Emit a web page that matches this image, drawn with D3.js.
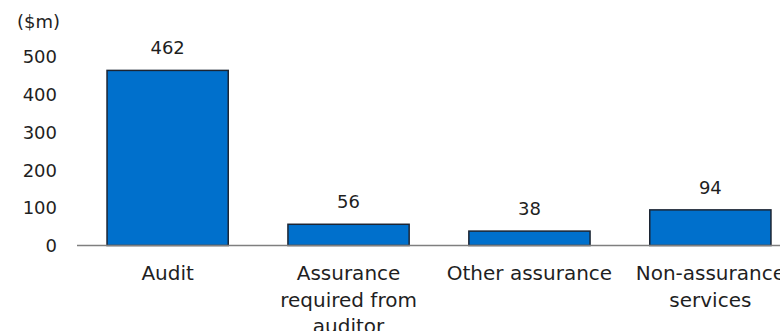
<!DOCTYPE html>
<html>
<head>
<meta charset="utf-8">
<script src="https://cdn.jsdelivr.net/npm/d3@7"></script>
<style>
  html, body { margin: 0; padding: 0; background: #fff; overflow: hidden; }
  svg text { font-family: "DejaVu Sans", sans-serif; fill: #1f1f1f; }
</style>
</head>
<body>
<svg id="chart" width="780" height="331"></svg>
<script>
// Fees paid by category ($m)
const categories = ["Audit", "Assurance required from auditor", "Other assurance", "Non-assurance services"];
const categoryLines = [["Audit"], ["Assurance", "required from", "auditor"], ["Other assurance"], ["Non-assurance", "services"]];
const values = [462, 56, 38, 94];
const yTicks = [0, 100, 200, 300, 400, 500];
const unitLabel = "($m)";

const svg = d3.select("#chart");
const numSize = 18;   // tick and value labels
const catSize = 20;   // category labels

const x = d3.scaleBand()
  .domain(categories)
  .range([77, 801])
  .paddingInner(0.33)
  .paddingOuter(0.166);

const y = d3.scaleLinear()
  .domain([0, 500])
  .range([245.5, 56]);

// value axis: labels only
const yAxis = d3.axisLeft(y).tickValues(yTicks).tickSize(0).tickPadding(0);
const gy = svg.append("g").attr("transform", "translate(57,0)").call(yAxis);
gy.select(".domain").remove();
gy.selectAll("text").style("font-size", numSize + "px").attr("dy", "0.35em");

svg.append("text")
  .attr("x", 17).attr("y", 28)
  .style("font-size", numSize + "px")
  .text(unitLabel);

// bars
svg.append("g").selectAll("rect")
  .data(values)
  .join("rect")
  .attr("x", (d, i) => x(categories[i]))
  .attr("width", x.bandwidth())
  .attr("y", d => y(d))
  .attr("height", d => y(0) - y(d))
  .attr("fill", "#0070cc")
  .attr("stroke", "#1c2533")
  .attr("stroke-width", 1.5);

// baseline
svg.append("line")
  .attr("x1", 77).attr("x2", 801)
  .attr("y1", y(0)).attr("y2", y(0))
  .attr("stroke", "#7f7f7f")
  .attr("stroke-width", 1.5);

// value labels
svg.append("g").selectAll("text")
  .data(values)
  .join("text")
  .attr("x", (d, i) => x(categories[i]) + x.bandwidth() / 2)
  .attr("y", d => y(d) - 16)
  .attr("text-anchor", "middle")
  .style("font-size", numSize + "px")
  .text(d => d);

// category labels
const gx = svg.append("g");
categories.forEach((c, i) => {
  const cx = x(c) + x.bandwidth() / 2;
  const t = gx.append("text")
    .attr("x", cx)
    .attr("y", 280)
    .attr("text-anchor", "middle")
    .style("font-size", catSize + "px");
  categoryLines[i].forEach((line, k) => {
    t.append("tspan")
      .attr("x", cx)
      .attr("y", 280 + k * 26.5)
      .text(line);
  });
});
</script>
</body>
</html>
